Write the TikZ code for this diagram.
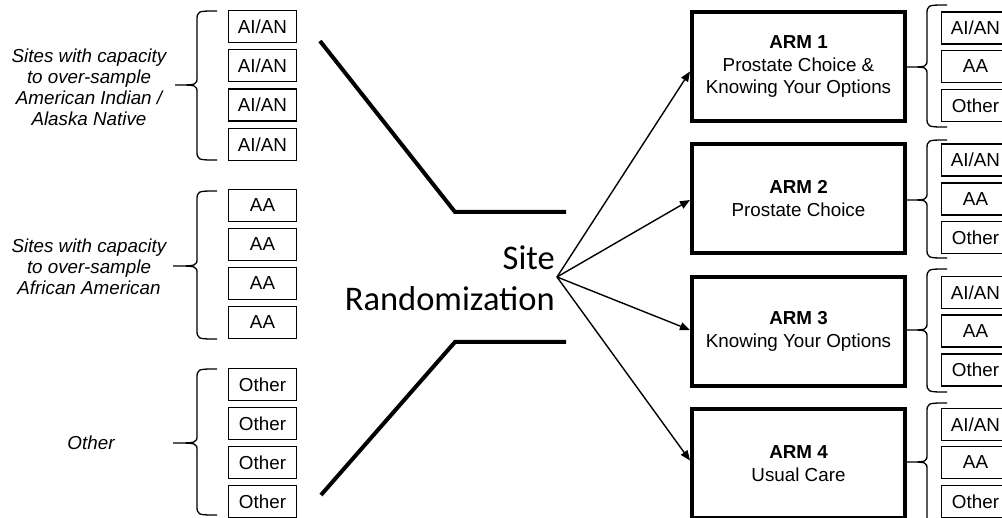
\documentclass[tikz,border=0pt]{standalone}
\usepackage{fontspec}
\setmainfont{Liberation Sans}
\newfontfamily\calib{Carlito}
\usetikzlibrary{arrows.meta}
\newcommand\bracepath[6]{% xend xv xtip top tip bottom
  \draw[brc] (#1,#4) .. controls (#2,#4) .. (#2,#4+10) -- (#2,#5-8)
    .. controls (#2,#5) .. (#3,#5) .. controls (#2,#5) .. (#2,#5+8)
    -- (#2,#6-10) .. controls (#2,#6) .. (#1,#6);}
\begin{document}
\begin{tikzpicture}[x=1pt,y=-1pt,
  sbox/.style={draw, line width=1.4pt, minimum width=68pt, minimum height=32pt, inner sep=0pt, font=\fontsize{18.8}{21}\selectfont},
  armbox/.style={draw, line width=4pt, minimum width=213pt, minimum height=109pt, align=center, font=\fontsize{18.8}{22.5}\selectfont},
  grp/.style={align=center, font=\fontsize{18.8}{21}\selectfont\itshape},
  bar/.style={line width=4pt},
  arr/.style={line width=1.4pt, -{Triangle[length=10pt,width=8pt]}},
  brc/.style={line width=1.3pt}
]
\useasboundingbox (0,0) rectangle (1002,518);
\clip (0,0) rectangle (1002,518);

% left groups
\foreach \y [count=\i] in {26.5,65.8,105.1,144.4} \node[sbox] (ai\i) at (262.5,\y) {AI/AN};
\foreach \y [count=\i] in {205.5,244.5,283.5,322.5} \node[sbox] (aa\i) at (262.5,\y) {AA};
\foreach \y [count=\i] in {384.5,423.5,462.5,501.5} \node[sbox] (ot\i) at (262.5,\y) {Other};

\bracepath{217}{197}{175}{11}{85}{160}
\bracepath{217}{197}{173}{191}{266}{339}
\bracepath{217}{197}{173}{369}{443}{515}

\node[grp] (g1) at (89,87) {Sites with capacity\\to over-sample\\American Indian /\\Alaska Native};
\node[grp] (g2) at (89,267) {Sites with capacity\\to over-sample\\African American};
\node[grp] (g3) at (91,443) {Other};

% funnel lines
\coordinate (t1) at (320,41);
\coordinate (t2) at (455,212);
\coordinate (t3) at (566,212);
\coordinate (b1) at (321,495);
\coordinate (b2) at (455,342);
\coordinate (b3) at (566,342);
\draw[bar] (t1) -- (t2) -- (t3);
\draw[bar] (b1) -- (b2) -- (b3);

\node[font=\calib\fontsize{34.5}{41}\selectfont, align=right, anchor=east, inner sep=0pt] (site) at (555,278) {Site\\Randomization};
\coordinate (src) at (557,277);

% arms
\node[armbox] (arm1) at (798.5,66.5) {\textbf{ARM 1}\\Prostate Choice \&\\Knowing Your Options};
\node[armbox] (arm2) at (798.5,198.5) {\textbf{ARM 2}\\Prostate Choice};
\node[armbox] (arm3) at (798.5,331.5) {\textbf{ARM 3}\\Knowing Your Options};
\node[armbox] (arm4) at (798.5,463.5) {\textbf{ARM 4}\\Usual Care};

\draw[arr] (src) -- ([yshift=-5pt]arm1.west);
\draw[arr] (src) -- ([yshift=-1.5pt]arm2.west);
\draw[arr] (src) -- ([yshift=1.5pt]arm3.west);
\draw[arr] (src) -- ([yshift=3pt]arm4.west);

% right groups
\foreach \a/\b/\c [count=\g] in {28/66.5/105.5, 160/199/237.5, 292.5/331/370, 424.5/462.5/501.5} {
  \node[sbox] (r\g a) at (975.5,\a) {AI/AN};
  \node[sbox] (r\g b) at (975.5,\b) {AA};
  \node[sbox] (r\g c) at (975.5,\c) {Other};
}
\bracepath{947}{927}{907}{5}{67}{127}
\bracepath{947}{927}{907}{140}{200}{258}
\bracepath{947}{927}{907}{269}{330}{392}
\bracepath{947}{927}{907}{403}{462}{525}
\end{tikzpicture}
\end{document}
